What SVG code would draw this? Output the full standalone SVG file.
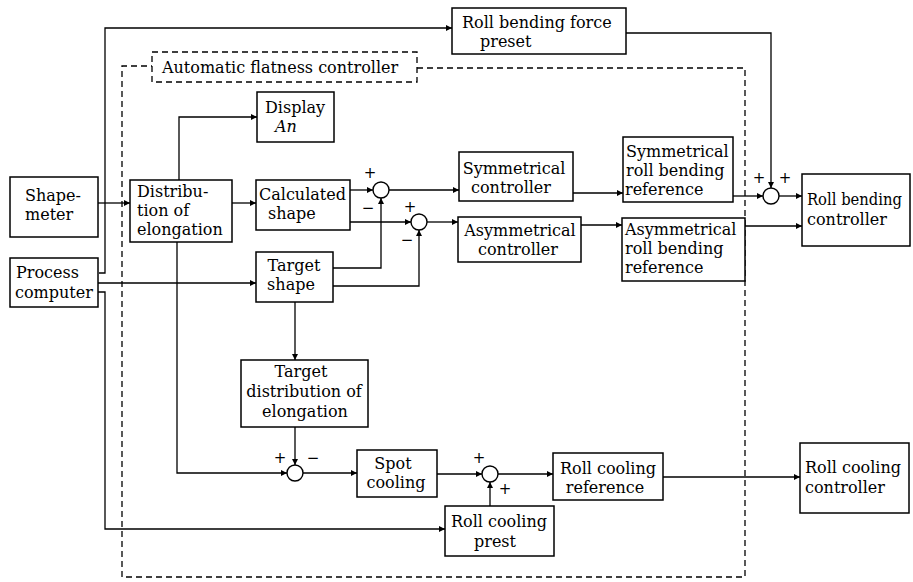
<svg xmlns="http://www.w3.org/2000/svg" width="913" height="582" viewBox="0 0 913 582">
<defs>
<marker id="ah" viewBox="0 0 10 10" refX="10" refY="5" markerWidth="9" markerHeight="6" markerUnits="userSpaceOnUse" orient="auto">
<path d="M0,0 L10,5 L0,10 z" fill="#000"/>
</marker>
<style>
.box{fill:#fff;stroke:#000;stroke-width:1.5}
.sum{fill:#fff;stroke:#000;stroke-width:1.4}
.ln{fill:none;stroke:#000;stroke-width:1.3}
.dash{fill:none;stroke:#000;stroke-width:1.3;stroke-dasharray:6 4}
text{font-family:"DejaVu Serif","Liberation Serif",serif;font-size:16px;fill:#000}
.c{text-anchor:middle}
.sg{font-family:"DejaVu Sans","Liberation Sans",sans-serif;font-size:15px;text-anchor:middle}
</style>
</defs>
<rect width="913" height="582" fill="#fff"/>

<g id="boundary">
<path class="dash" d="M417,68 H745 V577 H122 V66 H152"/>
</g>

<g id="connectors">
<path class="ln" d="M99,273 H105 V28 H452" marker-end="url(#ah)"/>
<path class="ln" d="M98,203 H130" marker-end="url(#ah)"/>
<path class="ln" d="M179,180 V117 H257" marker-end="url(#ah)"/>
<path class="ln" d="M232,203 H256" marker-end="url(#ah)"/>
<path class="ln" d="M350,190 H373" marker-end="url(#ah)"/>
<path class="ln" d="M389,190 H459" marker-end="url(#ah)"/>
<path class="ln" d="M350,222 H411" marker-end="url(#ah)"/>
<path class="ln" d="M333,268 H381 V198" marker-end="url(#ah)"/>
<path class="ln" d="M333,286 H419 V230" marker-end="url(#ah)"/>
<path class="ln" d="M427,222 H458" marker-end="url(#ah)"/>
<path class="ln" d="M573,193 H623" marker-end="url(#ah)"/>
<path class="ln" d="M581,225 H622" marker-end="url(#ah)"/>
<path class="ln" d="M733,196 H763" marker-end="url(#ah)"/>
<path class="ln" d="M626,33 H771 V188" marker-end="url(#ah)"/>
<path class="ln" d="M779,196 H802" marker-end="url(#ah)"/>
<path class="ln" d="M745,226 H802" marker-end="url(#ah)"/>
<path class="ln" d="M98,283 H256" marker-end="url(#ah)"/>
<path class="ln" d="M98,292 H105 V529 H445" marker-end="url(#ah)"/>
<path class="ln" d="M295,302 V360" marker-end="url(#ah)"/>
<path class="ln" d="M177,242 V473 H287" marker-end="url(#ah)"/>
<path class="ln" d="M295,427 V465" marker-end="url(#ah)"/>
<path class="ln" d="M303,473 H357" marker-end="url(#ah)"/>
<path class="ln" d="M437,474 H482" marker-end="url(#ah)"/>
<path class="ln" d="M490,506 V482" marker-end="url(#ah)"/>
<path class="ln" d="M498,474 H553" marker-end="url(#ah)"/>
<path class="ln" d="M663,477 H800" marker-end="url(#ah)"/>
</g>

<g id="afc-label">
<rect class="dash" x="152" y="52" width="265" height="30"/>
<text x="162" y="73" font-size="16.5">Automatic flatness controller</text>
</g>

<g id="preset">
<rect class="box" x="452" y="8" width="174" height="46"/>
<text x="462" y="28">Roll bending force</text>
<text x="480" y="47">preset</text>
</g>

<g id="display">
<rect class="box" x="257" y="92" width="77" height="50"/>
<text x="265" y="113">Display</text>
<text x="275" y="132" font-style="italic">An</text>
</g>

<g id="shapemeter">
<rect class="box" x="10" y="177" width="88" height="60"/>
<text x="25" y="201">Shape-</text>
<text x="25" y="220">meter</text>
</g>

<g id="process">
<rect class="box" x="10" y="258" width="88" height="49"/>
<text x="16" y="278">Process</text>
<text x="15" y="298">computer</text>
</g>

<g id="distribution">
<rect class="box" x="130" y="180" width="102" height="62"/>
<text x="137" y="197">Distribu-</text>
<text x="137" y="216">tion of</text>
<text x="137" y="235">elongation</text>
</g>

<g id="calculated">
<rect class="box" x="256" y="180" width="94" height="50"/>
<text x="259" y="200">Calculated</text>
<text x="268" y="219">shape</text>
</g>

<g id="target-shape">
<rect class="box" x="256" y="252" width="77" height="50"/>
<text class="c" x="294" y="271">Target</text>
<text class="c" x="291" y="290">shape</text>
</g>

<g id="sum1">
<circle class="sum" cx="381" cy="190" r="8"/>
<text class="sg" x="370" y="178">+</text>
<text class="sg" x="368" y="213">−</text>
</g>

<g id="sum2">
<circle class="sum" cx="419" cy="222" r="8"/>
<text class="sg" x="410" y="212">+</text>
<text class="sg" x="407" y="245">−</text>
</g>

<g id="sym-ctl">
<rect class="box" x="459" y="152" width="114" height="49"/>
<text class="c" x="514" y="174">Symmetrical</text>
<text class="c" x="511" y="193">controller</text>
</g>

<g id="asym-ctl">
<rect class="box" x="458" y="217" width="123" height="45"/>
<text class="c" x="520" y="236">Asymmetrical</text>
<text class="c" x="518" y="255">controller</text>
</g>

<g id="sym-ref">
<rect class="box" x="623" y="137" width="110" height="65"/>
<text x="626" y="157">Symmetrical</text>
<text x="626" y="176">roll bending</text>
<text x="625" y="195">reference</text>
</g>

<g id="asym-ref">
<rect class="box" x="622" y="218" width="123" height="63"/>
<text x="625" y="235">Asymmetrical</text>
<text x="625" y="254">roll bending</text>
<text x="625" y="273">reference</text>
</g>

<g id="sum3">
<circle class="sum" cx="771" cy="196" r="8"/>
<text class="sg" x="759" y="183">+</text>
<text class="sg" x="785" y="183">+</text>
</g>

<g id="rb-ctl">
<rect class="box" x="802" y="174" width="108" height="72"/>
<text x="807" y="205" textLength="95" lengthAdjust="spacingAndGlyphs">Roll bending</text>
<text x="807" y="225">controller</text>
</g>

<g id="target-dist">
<rect class="box" x="241" y="360" width="127" height="67"/>
<text class="c" x="301" y="377">Target</text>
<text class="c" x="304" y="397">distribution of</text>
<text class="c" x="305" y="417">elongation</text>
</g>

<g id="sum4">
<circle class="sum" cx="295" cy="473" r="8"/>
<text class="sg" x="280" y="463">+</text>
<text class="sg" x="313" y="463">−</text>
</g>

<g id="spot">
<rect class="box" x="357" y="450" width="80" height="47"/>
<text class="c" x="393" y="469">Spot</text>
<text class="c" x="396" y="488">cooling</text>
</g>

<g id="sum5">
<circle class="sum" cx="490" cy="474" r="8"/>
<text class="sg" x="479" y="463">+</text>
<text class="sg" x="505" y="494">+</text>
</g>

<g id="rc-prest">
<rect class="box" x="445" y="506" width="109" height="50"/>
<text class="c" x="499" y="527">Roll cooling</text>
<text class="c" x="495" y="547">prest</text>
</g>

<g id="rc-ref">
<rect class="box" x="553" y="453" width="110" height="47"/>
<text class="c" x="608" y="474">Roll cooling</text>
<text class="c" x="605" y="493">reference</text>
</g>

<g id="rc-ctl">
<rect class="box" x="800" y="443" width="109" height="70"/>
<text x="805" y="473">Roll cooling</text>
<text x="805" y="493">controller</text>
</g>
</svg>
